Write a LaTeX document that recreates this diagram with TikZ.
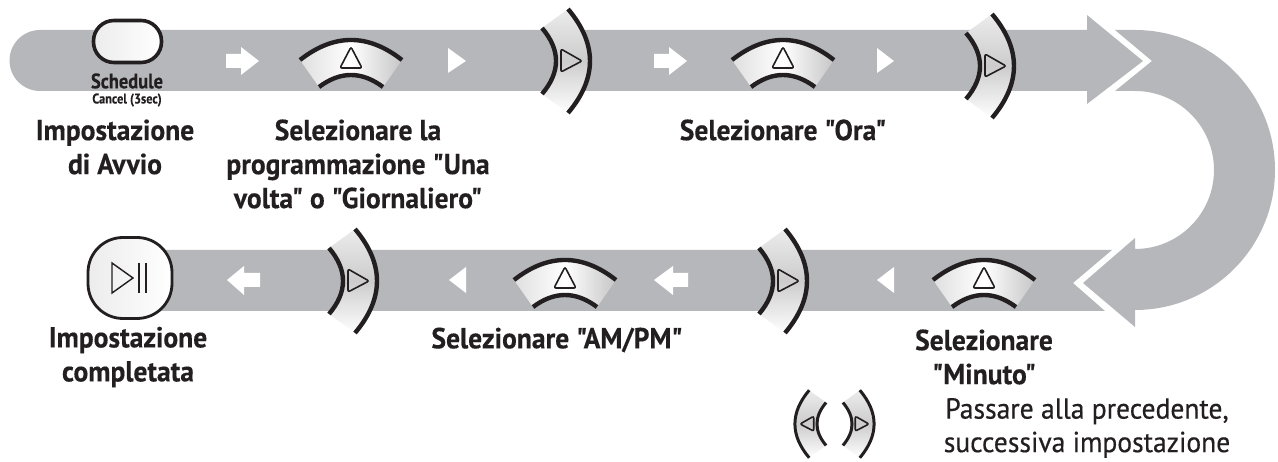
\documentclass[tikz,border=0pt]{standalone}
\usepackage{fontspec}
\newfontfamily\capfont{PT Sans}[BoldFeatures={FakeBold=0.35},FakeStretch=0.95]
\newfontfamily\keyfont{PT Sans}[BoldFeatures={FakeBold=0.2},FakeStretch=0.88]
\newfontfamily\hintfont{PT Sans}[FakeBold=0.45,FakeStretch=0.95]
\usetikzlibrary{positioning}
\definecolor{bandgray}{HTML}{B5B7BA}
\definecolor{inkblack}{HTML}{231F20}
\tikzset{
	pics/upkey/.style={code={
		\shade[left color=gray!25,right color=gray!45,middle color=white] (-51,0) .. controls (-17,-26.7) and (17,-26.7) .. (51,0) -- (32,27) .. controls (10.7,11) and (-10.7,11) .. (-32,27) -- cycle;
		\draw[inkblack,line width=4.4pt] (-51,0) .. controls (-17,-26.7) and (17,-26.7) .. (51,0);
		\draw[inkblack,line width=4.4pt] (-32,27) .. controls (-10.7,11) and (10.7,11) .. (32,27);
		\draw[inkblack,line width=1.6pt,rounded corners=2pt] (0,-13) -- (11,8) -- (-11,8) -- cycle;
	}},
	pics/rightkey/.style={code={
		\shade[top color=gray!15,bottom color=white,middle color=gray!40] (-14,-33) .. controls (4.7,-11) and (4.7,11) .. (-14,33) -- (12,52) .. controls (41.3,17.3) and (41.3,-17.3) .. (12,-52) -- cycle;
		\draw[inkblack,line width=#1] (-14,-33) .. controls (4.7,-11) and (4.7,11) .. (-14,33);
		\draw[inkblack,line width=#1] (12,-52) .. controls (41.3,-17.3) and (41.3,17.3) .. (12,52);
		\draw[inkblack,line width=1.6pt,rounded corners=2pt] (5,-12) -- (26,0) -- (5,11) -- cycle;
	}}
}
\begin{document}
\begin{tikzpicture}
		[x=1pt,y=-1pt,
	caption/.style={inner sep=0pt,align=center,text=inkblack,font=\fontsize{29}{34}\selectfont\capfont\bfseries},
	keytext/.style={inner sep=0pt,align=center,text=inkblack},
	button/.style={draw=inkblack,shape=rectangle,left color=gray!15,right color=white},
	pointer/.style={fill=white,draw=none}
	]
		\useasboundingbox (0,0) rectangle (1278,462);

		\fill[bandgray] (40,30) -- (1087,30) -- (1087,15) -- (1143,61) -- (1087,104) -- (1087,91) -- (40,91) arc[start angle=270,end angle=90,radius=30.5pt] -- cycle;
		\fill[bandgray] (1115,30) -- (1135,30) arc[start angle=90,end angle=-90,radius=140pt] -- (1135,327) -- (1083,283) -- (1135,238) -- (1135,249) arc[start angle=-90,end angle=90,radius=79pt] -- (1115,91) -- (1152,61) -- cycle;
		\fill[bandgray] (130,250) -- (1112,250) -- (1073,283) -- (1105,311) -- (130,311) -- cycle;

		\node (sched) [button,line width=3.6pt,rounded corners=20.5pt,minimum width=68pt,minimum height=42pt] at (127.5,41.5) {};
		\node (play) [button,line width=2.8pt,rounded corners=35pt,minimum width=84pt,minimum height=81pt] at (130,278) {};
		\draw[inkblack,line width=1.4pt] (112,263) -- (133,278) -- (112,293) -- cycle;
		\draw[inkblack,line width=1.4pt] (139,263) -- (139,293);
		\draw[inkblack,line width=1.4pt] (146,263) -- (146,293);

		\fill[pointer] (226,54) -- (241,54) -- (241,47) -- (259,61) -- (241,75) -- (241,68) -- (226,68) -- cycle;
		\fill[pointer] (654,54) -- (669,54) -- (669,47) -- (687,61) -- (669,75) -- (669,68) -- (654,68) -- cycle;
		\fill[pointer] (448,48) -- (466,61) -- (448,73) -- cycle;
		\fill[pointer] (877,48) -- (894,61) -- (877,73) -- cycle;
		\fill[pointer] (260,273) -- (244,273) -- (244,266) -- (227,280) -- (244,295) -- (244,287) -- (260,287) -- cycle;
		\fill[pointer] (688,273) -- (673,273) -- (673,266) -- (654,280) -- (673,295) -- (673,287) -- (688,287) -- cycle;
		\fill[pointer] (466,267) -- (449,280) -- (466,293) -- cycle;
		\fill[pointer] (894,267) -- (877,280) -- (894,293) -- cycle;

		\pic at (351,60) {upkey};
		\pic at (783,60) {upkey};
		\pic at (565,280) {upkey};
		\pic at (984,280) {upkey};
		\pic at (556,61) {rightkey=4.4pt};
		\pic at (980,66) {rightkey=4.4pt};
		\pic at (343,281) {rightkey=4.4pt};
		\pic at (773,281) {rightkey=4.4pt};
		\pic[scale=.65] at (852,424) {rightkey=3pt};
		\pic[xscale=-.65,yscale=.65] at (817,424) {rightkey=3pt};

		\node (schedtxt) [keytext,font=\fontsize{21}{21}\selectfont\keyfont\bfseries] at (127,81) {Schedule};
		\node (canceltxt) [keytext,font=\fontsize{14}{14}\selectfont\keyfont\bfseries] at (127,100) {Cancel (3sec)};
		\node (start) [caption] at (115,147) {Impostazione\\di Avvio};
		\node (once) [caption] at (358,164) {Selezionare la\\programmazione "Una\\volta" o "Giornaliero"};
		\node (hour) [caption] at (783,130) {Selezionare "Ora"};
		\node (done) [caption] at (128,357) {Impostazione\\completata};
		\node (ampm) [caption] at (557,340) {Selezionare "AM/PM"};
		\node (minute) [caption] at (984,357) {Selezionare\\"Minuto"};
		\node (prevnext) [caption,font=\fontsize{29}{33.5}\selectfont\hintfont] at (1087,428) {Passare alla precedente,\\successiva impostazione};
	\end{tikzpicture}
\end{document}
